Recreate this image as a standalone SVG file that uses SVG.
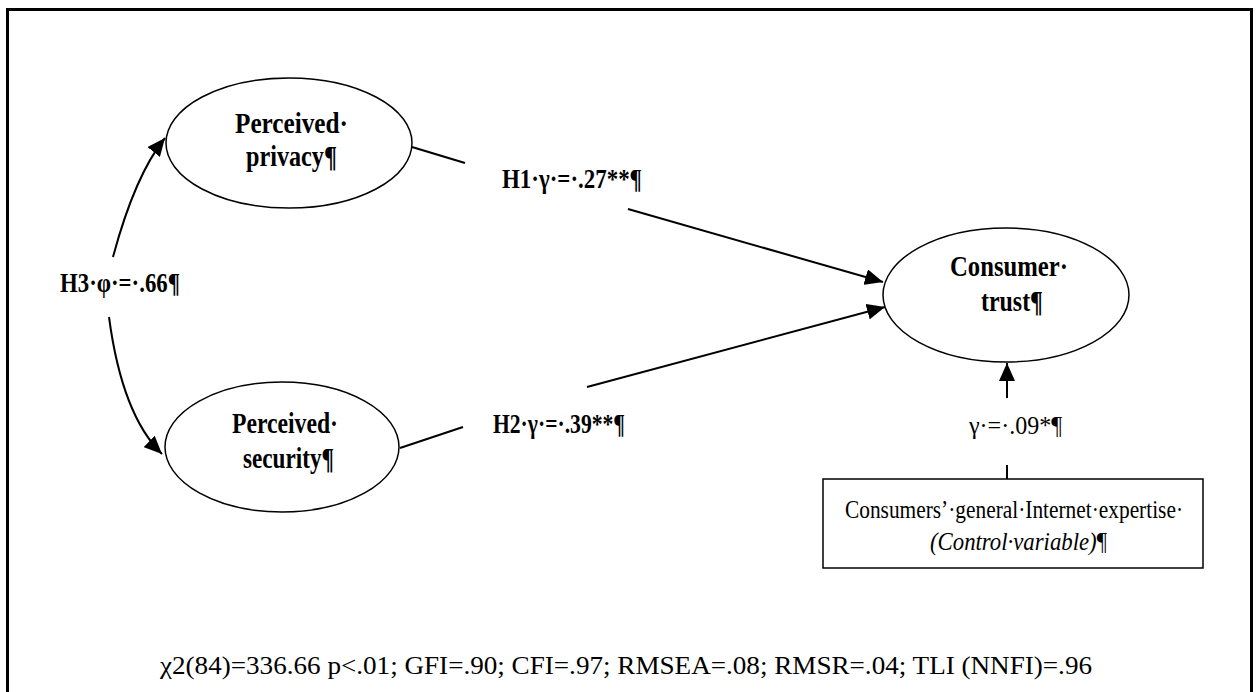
<svg xmlns="http://www.w3.org/2000/svg" width="1259" height="692" viewBox="0 0 1259 692">
<style>
.frame{fill:none;stroke:#000;stroke-width:3}
.node{fill:#fff;stroke:#000;stroke-width:1.5}
.lbl{font-family:"Liberation Serif","Times New Roman",serif;font-weight:bold;font-size:28px;fill:#000}
.nl{font-size:29px}
.reg{font-family:"Liberation Serif","Times New Roman",serif;font-size:25px;fill:#000}
.it{font-style:italic}
.edge{fill:none;stroke:#000;stroke-width:2}
</style>
<defs>
<marker id="ah" markerUnits="userSpaceOnUse" markerWidth="20" markerHeight="16" refX="18" refY="8" orient="auto">
<path d="M0,0 L18,8 L0,16 Z" fill="#000"/>
</marker>
</defs>
<rect x="0" y="0" width="1259" height="692" fill="#fff"/>
<path class="frame" d="M7.5,692 V9.5 H1251.5 V692"/>

<g id="connectors">
<path class="edge" d="M113,257 Q135,175 165,138" marker-end="url(#ah)"/>
<path class="edge" d="M109,317 Q122,415 162,454" marker-end="url(#ah)"/>
<line class="edge" x1="412" y1="147" x2="465" y2="163"/>
<line class="edge" x1="628" y1="209" x2="883" y2="282" marker-end="url(#ah)"/>
<line class="edge" x1="400" y1="448" x2="463" y2="427"/>
<line class="edge" x1="587" y1="387" x2="885" y2="307" marker-end="url(#ah)"/>
<line class="edge" x1="1007" y1="398" x2="1007" y2="363" marker-end="url(#ah)"/>
<line class="edge" x1="1007" y1="465" x2="1007" y2="479"/>
</g>

<g id="privacy">
<ellipse class="node" cx="289" cy="143" rx="123" ry="65"/>
<text class="lbl nl" x="235" y="133" textLength="113" lengthAdjust="spacingAndGlyphs">Perceived·</text>
<text class="lbl nl" x="246" y="166" textLength="91" lengthAdjust="spacingAndGlyphs">privacy¶</text>
</g>

<g id="security">
<ellipse class="node" cx="282" cy="447" rx="117" ry="65"/>
<text class="lbl nl" x="232" y="433" textLength="106" lengthAdjust="spacingAndGlyphs">Perceived·</text>
<text class="lbl nl" x="243" y="468" textLength="91" lengthAdjust="spacingAndGlyphs">security¶</text>
</g>

<g id="trust">
<ellipse class="node" cx="1006" cy="295" rx="123" ry="67"/>
<text class="lbl nl" x="950" y="276" textLength="118" lengthAdjust="spacingAndGlyphs">Consumer·</text>
<text class="lbl nl" x="981" y="311" textLength="62" lengthAdjust="spacingAndGlyphs">trust¶</text>
</g>

<g id="control">
<rect class="node" x="823" y="479" width="380" height="89"/>
<text class="reg" x="845" y="518" textLength="338" lengthAdjust="spacingAndGlyphs">Consumers’·general·Internet·expertise·</text>
<text class="reg" x="930" y="550" textLength="177" lengthAdjust="spacingAndGlyphs"><tspan class="it">(Control·variable)</tspan>¶</text>
</g>

<g id="labels">
<text class="lbl" x="502" y="188" textLength="140" lengthAdjust="spacingAndGlyphs">H1·γ·=·.27**¶</text>
<text class="lbl" x="493" y="433" textLength="132" lengthAdjust="spacingAndGlyphs">H2·γ·=·.39**¶</text>
<text class="lbl" x="60" y="292" textLength="120" lengthAdjust="spacingAndGlyphs">H3·φ·=·.66¶</text>
<text class="reg" x="969" y="434" textLength="93" lengthAdjust="spacingAndGlyphs">γ·=·.09*¶</text>
<text class="reg" x="160" y="674" textLength="932" lengthAdjust="spacingAndGlyphs">χ2(84)=336.66 p&lt;.01; GFI=.90; CFI=.97; RMSEA=.08; RMSR=.04; TLI (NNFI)=.96</text>
</g>
</svg>
